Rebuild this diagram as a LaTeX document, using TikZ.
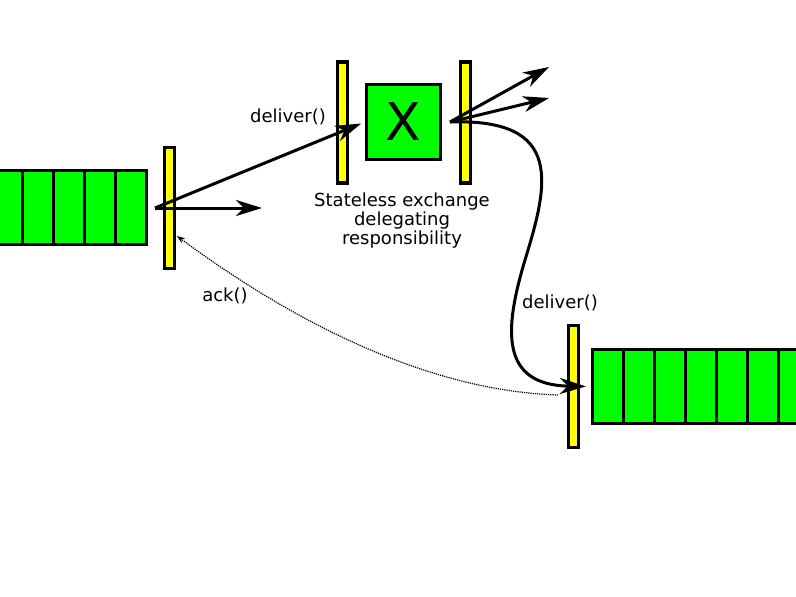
\documentclass[tikz,border=0pt]{standalone}
\usepackage{fontspec}
\setmainfont{DejaVu Sans}
\usetikzlibrary{arrows.meta}
\definecolor{qgreen}{RGB}{0,255,0}
\definecolor{qyellow}{RGB}{255,255,0}

\begin{document}
\begin{tikzpicture}[x=1pt, y=-1pt,
  >={Stealth[length=26pt, width=16pt, inset=8pt]},
  bar/.style={draw, fill=qyellow, line width=3.2pt, minimum width=10pt, minimum height=121pt, inner sep=0pt},
  cell/.style={draw, fill=qgreen, line width=3.2pt, minimum width=31pt, minimum height=74pt, inner sep=0pt},
  msg/.style={font=\fontsize{18}{19}\selectfont, inner sep=0pt},
  flow/.style={->, line width=3pt},
  ack/.style={-{Stealth[length=8pt, width=6pt]}, line width=1.2pt, densely dotted}]

\clip (0,0) rectangle (796,597);

\foreach \i in {0,...,4}
  \node[cell] (lq\i) at (7+31*\i, 207.5) {};
\node[bar] (lbar) at (169.5,208) {};

\node[bar] (inbar) at (342.5,122.5) {};
\node[cell, minimum width=74pt, minimum height=75pt] (xbox) at (403.5,122) {\fontsize{52}{52}\selectfont X};
\node[bar] (outbar) at (465.5,122.5) {};

\node[bar, minimum height=122pt] (rbar) at (573.5,386.5) {};
\foreach \i in {0,...,6}
  \node[cell] (rq\i) at (608+31*\i, 386.5) {};

\coordinate (lout) at (155,208);
\coordinate (lfree) at (262,208);
\coordinate (xout) at (450,122);
\coordinate (up1) at (549,67);
\coordinate (up2) at (549,98);
\coordinate (ackfrom) at (558,395);
\coordinate (ackto) at (177,236);

\draw[flow] (lout) -- (lfree);
\draw[flow, shorten >=4pt] (lout) -- (xbox.west);
\draw[flow] (xout) -- (up1);
\draw[flow] (xout) -- (up2);
\draw[flow, shorten >=5pt] (xout) .. controls (565,118) and (548,185) .. (525,260)
  .. controls (504,330) and (500,385) .. (rq0.west);
\draw[ack] (ackfrom) .. controls (400,390) and (250,290) .. (ackto);

\node[msg] (dlv1) at (288,117) {deliver()};
\node[msg] (dlv2) at (560,303) {deliver()};
\node[msg] (acklbl) at (225,296) {ack()};
\node[msg, align=center] (xlbl) at (402,221) {Stateless exchange\\delegating\\responsibility};

\end{tikzpicture}
\end{document}
